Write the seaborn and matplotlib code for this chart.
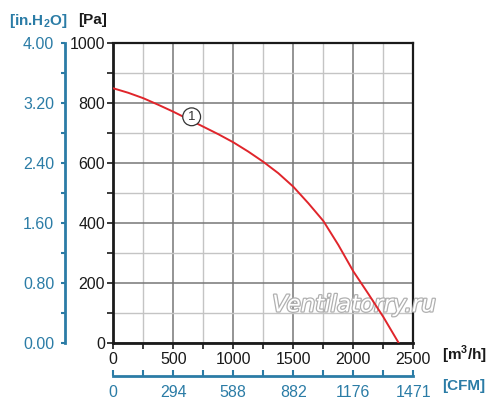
import matplotlib
matplotlib.use("Agg")
import matplotlib.pyplot as plt
import matplotlib.patheffects as pe
from matplotlib.ticker import MultipleLocator
import seaborn as sns
import pandas as pd

# fan curve
flow_m3h = [0, 125, 250, 375, 500, 750, 875, 1000, 1125, 1250, 1375, 1500,
            1625, 1750, 1875, 2000, 2125, 2250, 2380]
pressure_pa = [850, 835, 817, 795, 772, 722, 697, 670, 639, 605, 567, 522,
               467, 408, 328, 240, 165, 88, 0]

pa_ticks = [0, 200, 400, 600, 800, 1000]
flow_ticks = [0, 500, 1000, 1500, 2000, 2500]
inh2o_labels = ["0.00", "0.80", "1.60", "2.40", "3.20", "4.00"]
cfm_labels = ["0", "294", "588", "882", "1176", "1471"]

curve_label = "1"
curve_label_at = (653, 755)

BLUE = "#2b7ca6"
RED = "#e0252b"

sns.set_theme(style="white")
plt.rcParams["font.family"] = ["Liberation Sans", "DejaVu Sans"]
plt.rcParams["mathtext.fontset"] = "custom"
plt.rcParams["mathtext.rm"] = "Liberation Sans:bold"
plt.rcParams["mathtext.bf"] = "Liberation Sans:bold"

df = pd.DataFrame({"flow": flow_m3h, "pressure": pressure_pa})

fig = plt.figure(figsize=(5, 4.13), dpi=100)
ax = fig.add_axes([113.3 / 500, 69.7 / 413, 300 / 500, 300 / 413])

sns.lineplot(data=df, x="flow", y="pressure", ax=ax, color=RED, linewidth=1.4, zorder=5)

ax.set_xlim(0, 2500)
ax.set_ylim(0, 1000)
ax.set_xticks(flow_ticks)
ax.set_yticks(pa_ticks)
ax.xaxis.set_minor_locator(MultipleLocator(250))
ax.yaxis.set_minor_locator(MultipleLocator(100))
ax.set_xlabel("")
ax.set_ylabel("")

ax.grid(which="major", color="#777777", linewidth=1.1, zorder=0)
ax.grid(which="minor", color="#c4c4c4", linewidth=1.0, zorder=0)
ax.set_axisbelow(True)

for side in ["left", "bottom"]:
    ax.spines[side].set_linewidth(2.0)
    ax.spines[side].set_color("#1a1a1a")
for side in ["top", "right"]:
    ax.spines[side].set_linewidth(1.6)
    ax.spines[side].set_color("#1a1a1a")

ax.tick_params(which="both", direction="out", color="#1a1a1a", width=1.2,
               left=True, bottom=True, labelsize=11.5, labelcolor="#1a1a1a")
ax.tick_params(which="major", length=4, pad=2)
ax.tick_params(which="minor", length=4)

# secondary axis: inches of water
sec_y = ax.secondary_yaxis(-48 / 300, functions=(lambda p: p / 250, lambda h: h * 250))
sec_y.set_yticks([float(s) for s in inh2o_labels])
sec_y.set_yticklabels(inh2o_labels)
sec_y.yaxis.set_minor_locator(MultipleLocator(0.4))
sec_y.spines["left"].set_color(BLUE)
sec_y.spines["left"].set_linewidth(2.0)
sec_y.tick_params(which="both", direction="out", color=BLUE, width=1.5, length=3,
                  labelcolor=BLUE, labelsize=11.5, pad=5)

# secondary axis: CFM
sec_x = ax.secondary_xaxis(-33 / 300, functions=(lambda q: q / 1.7, lambda c: c * 1.7))
sec_x.set_xticks([f / 1.7 for f in flow_ticks])
sec_x.set_xticklabels(cfm_labels)
sec_x.xaxis.set_minor_locator(MultipleLocator(250 / 1.7))
sec_x.spines["bottom"].set_color(BLUE)
sec_x.spines["bottom"].set_linewidth(2.0)
sec_x.tick_params(which="both", direction="in", color=BLUE, width=1.5, length=4,
                  labelcolor=BLUE, labelsize=11.5, pad=6)

# curve number
ax.text(curve_label_at[0], curve_label_at[1], curve_label, ha="center", va="center",
        fontsize=9.5, color="#333333", zorder=7,
        bbox=dict(boxstyle="circle,pad=0.22", fc="white", ec="#333333", lw=0.9))

# watermark
ax.text(2005, 128, "Ventilatorry.ru", ha="center", va="center", fontsize=16.5,
        family="DejaVu Sans", style="italic", color="white", zorder=3, clip_on=False,
        path_effects=[pe.Stroke(linewidth=1.8, foreground="#b0b0b0"), pe.Normal()])

# unit labels
fig.text(38 / 500, 1 - 21 / 413, r"[in.H$_\mathbf{2}$O]", ha="center", va="center",
         color=BLUE, fontsize=11, fontweight="bold")
fig.text(93 / 500, 1 - 20 / 413, "[Pa]", ha="center", va="center",
         color="#1a1a1a", fontsize=11, fontweight="bold")
fig.text(464 / 500, 1 - 355 / 413, r"[m$^\mathbf{3}$/h]", ha="center", va="center",
         color="#1a1a1a", fontsize=11, fontweight="bold")
fig.text(464 / 500, 1 - 386 / 413, "[CFM]", ha="center", va="center",
         color=BLUE, fontsize=11, fontweight="bold")

fig.savefig("out.png", dpi=100)
